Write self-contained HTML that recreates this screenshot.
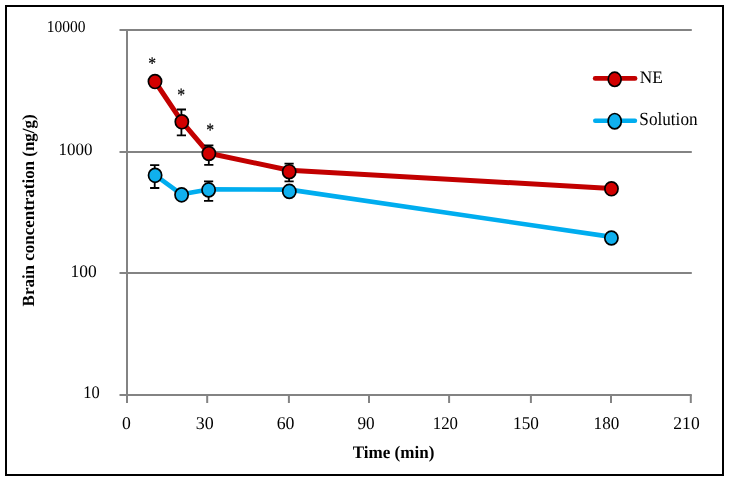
<!DOCTYPE html>
<html>
<head>
<meta charset="utf-8">
<style>
html,body{margin:0;padding:0;background:#fff;width:729px;height:481px;overflow:hidden;}
svg{display:block;-webkit-font-smoothing:antialiased;will-change:transform;}
text{font-family:"Liberation Serif",serif;fill:#000;text-rendering:geometricPrecision;}
</style>
</head>
<body>
<svg width="729" height="481" viewBox="0 0 729 481">
<rect x="0" y="0" width="729" height="481" fill="#fff"/>
<!-- outer border -->
<rect x="6" y="6" width="717" height="469" fill="none" stroke="#000" stroke-width="2"/>

<!-- gridlines & axes -->
<g stroke="#838383" stroke-width="2" fill="none">
<line x1="119.5" y1="30" x2="691.8" y2="30"/>
<line x1="119.5" y1="152.1" x2="691.8" y2="152.1"/>
<line x1="119.5" y1="273" x2="691.8" y2="273"/>
<line x1="119.5" y1="395" x2="691.8" y2="395"/>
<line x1="127" y1="29" x2="127" y2="403"/>
<line x1="207.2" y1="395" x2="207.2" y2="403"/>
<line x1="288.9" y1="395" x2="288.9" y2="403"/>
<line x1="369" y1="395" x2="369" y2="403"/>
<line x1="449.1" y1="395" x2="449.1" y2="403"/>
<line x1="530.9" y1="395" x2="530.9" y2="403"/>
<line x1="611" y1="395" x2="611" y2="403"/>
<line x1="690.8" y1="395" x2="690.8" y2="403"/>
</g>

<!-- series lines -->
<polyline points="155,81.5 181.85,121.7 208.85,153.3 289.3,170.2 611.4,188.4" fill="none" stroke="#C20000" stroke-width="5" stroke-linejoin="round"/>
<polyline points="155.1,175.2 181.6,194.3 208.6,189.4 289.3,189.6 611.4,236.9" fill="none" stroke="#00ADEF" stroke-width="4.6" stroke-linejoin="round"/>

<!-- error bars -->
<g stroke="#000" stroke-width="1.8" fill="none">
<path d="M181.4 109.5V135.3M176.8 109.5H186.0M176.8 135.3H186.0"/>
<path d="M208.8 145.4V164.85M204.2 145.4H213.4M204.2 164.85H213.4"/>
<path d="M289.1 163.6V181.3M284.5 163.6H293.7M284.5 181.3H293.7"/>
<path d="M154.7 165.2V188.0M150.1 165.2H159.3M150.1 188.0H159.3"/>
<path d="M208.6 181.3V200.9M204.0 181.3H213.2M204.0 200.9H213.2"/>
</g>

<!-- markers -->
<g stroke="#000" stroke-width="1.7" fill="#D20000">
<ellipse cx="155" cy="81.55" rx="6.6" ry="6.95"/>
<ellipse cx="181.85" cy="121.8" rx="6.6" ry="6.95"/>
<ellipse cx="208.85" cy="153.5" rx="6.6" ry="6.95"/>
<ellipse cx="289.2" cy="171.7" rx="6.6" ry="6.95"/>
<ellipse cx="611.45" cy="188.8" rx="6.6" ry="6.95"/>
</g>
<g stroke="#000" stroke-width="1.7" fill="#10B0EE">
<ellipse cx="155.1" cy="175.35" rx="6.6" ry="6.95"/>
<ellipse cx="181.6" cy="194.85" rx="6.6" ry="6.95"/>
<ellipse cx="208.6" cy="189.9" rx="6.6" ry="6.95"/>
<ellipse cx="289.3" cy="191.4" rx="6.6" ry="6.95"/>
<ellipse cx="611.4" cy="238" rx="6.6" ry="6.95"/>
</g>

<!-- legend -->
<line x1="595.2" y1="78.4" x2="635" y2="78.4" stroke="#C20000" stroke-width="4.8" stroke-linecap="round"/>
<ellipse cx="614.7" cy="79.3" rx="6.45" ry="7.2" stroke="#000" stroke-width="1.7" fill="#D20000"/>
<line x1="595.2" y1="120.8" x2="635" y2="120.8" stroke="#00ADEF" stroke-width="4.4" stroke-linecap="round"/>
<ellipse cx="614.7" cy="121.2" rx="6.6" ry="7.7" stroke="#000" stroke-width="1.7" fill="#10B0EE"/>

<!-- text -->
<text transform="matrix(0.9688,0,0,1.0373,46.638,32.338)" font-size="16" font-weight="normal">10000</text>
<text transform="matrix(1.0606,0,0,1.0929,58.609,154.829)" font-size="16" font-weight="normal">1000</text>
<text transform="matrix(1.0894,0,0,1.1114,70.618,276.726)" font-size="16" font-weight="normal">100</text>
<text transform="matrix(1.0297,0,0,1.1022,83.152,398.028)" font-size="16" font-weight="normal">10</text>
<text transform="matrix(1.1060,0,0,1.1207,122.026,429.025)" font-size="16" font-weight="normal">0</text>
<text transform="matrix(1.1248,0,0,1.1207,195.839,429.025)" font-size="16" font-weight="normal">30</text>
<text transform="matrix(1.1154,0,0,1.1207,276.633,429.025)" font-size="16" font-weight="normal">60</text>
<text transform="matrix(1.0756,0,0,1.1207,357.445,429.025)" font-size="16" font-weight="normal">90</text>
<text transform="matrix(1.0507,0,0,1.1207,432.722,429.025)" font-size="16" font-weight="normal">120</text>
<text transform="matrix(1.0780,0,0,1.1207,513.084,429.025)" font-size="16" font-weight="normal">150</text>
<text transform="matrix(1.0689,0,0,1.1207,593.597,429.025)" font-size="16" font-weight="normal">180</text>
<text transform="matrix(1.0975,0,0,1.1207,673.328,429.025)" font-size="16" font-weight="normal">210</text>
<text transform="matrix(1.0656,0,0,1.0977,352.734,457.800)" font-size="16" font-weight="bold">Time (min)</text>
<text transform="matrix(0,-1.0590,1.0661,0,33.935,306.381)" font-size="16" font-weight="bold">Brain concentration (ng/g)</text>
<text transform="matrix(1.0812,0,0,1.0881,639.702,83.000)" font-size="16" font-weight="normal">NE</text>
<text transform="matrix(1.0733,0,0,1.1636,639.351,124.618)" font-size="16" font-weight="normal">Solution</text>
<text transform="matrix(0.9763,0,0,1.1079,148.137,69.007)" font-size="16" font-weight="normal" stroke="#000" stroke-width="0.2">*</text>
<text transform="matrix(0.9763,0,0,1.1931,177.137,101.399)" font-size="16" font-weight="normal" stroke="#000" stroke-width="0.2">*</text>
<text transform="matrix(0.9763,0,0,1.1760,206.137,136.221)" font-size="16" font-weight="normal" stroke="#000" stroke-width="0.2">*</text>
</svg>
</body>
</html>
